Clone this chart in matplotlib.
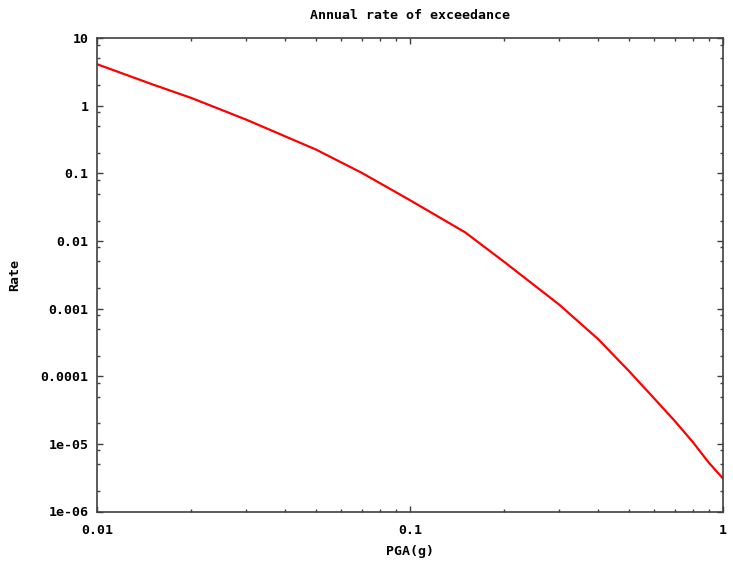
import numpy as np
import matplotlib
matplotlib.use('Agg')
import matplotlib.pyplot as plt
from matplotlib.ticker import FixedLocator, FixedFormatter, NullFormatter

# Hazard curve
pga = [0.01, 0.015, 0.02, 0.03, 0.04, 0.05, 0.07, 0.1, 0.15, 0.2,
       0.3, 0.4, 0.5, 0.6, 0.7, 0.8, 0.9, 1.0]
rate = [4.1, 2.07, 1.3, 0.62, 0.35, 0.225, 0.102, 0.040, 0.0134, 0.0049,
        0.00114, 3.5e-4, 1.2e-4, 4.8e-5, 2.2e-5, 1.07e-5, 5.3e-6, 3.07e-6]

xticks = [0.01, 0.1, 1]
xlabels = ['0.01', '0.1', '1']
yticks = [1e-6, 1e-5, 1e-4, 1e-3, 1e-2, 1e-1, 1, 10]
ylabels = ['1e-06', '1e-05', '0.0001', '0.001', '0.01', '0.1', '1', '10']

font = dict(family='DejaVu Sans Mono', weight='bold', size=9.5)
axis_col = '#404040'

fig = plt.figure(figsize=(7.33, 5.66), dpi=100)
ax = fig.add_axes([97 / 733, 1 - 511.5 / 566, 626 / 733, 473.5 / 566])

ax.loglog(pga, rate, color='#ff0000', lw=1.6)
ax.set_xlim(0.01, 1)
ax.set_ylim(1e-6, 10)

# major ticks with gnuplot-like labels
ax.xaxis.set_major_locator(FixedLocator(xticks))
ax.xaxis.set_major_formatter(FixedFormatter(xlabels))
ax.yaxis.set_major_locator(FixedLocator(yticks))
ax.yaxis.set_major_formatter(FixedFormatter(ylabels))

# minor ticks
xminor = [m * d for d in [0.01, 0.1] for m in range(2, 10)]
yminor = [m * d for d in yticks[:-1] for m in (2, 5, 8)]
ax.xaxis.set_minor_locator(FixedLocator(xminor))
ax.yaxis.set_minor_locator(FixedLocator(yminor))
ax.xaxis.set_minor_formatter(NullFormatter())
ax.yaxis.set_minor_formatter(NullFormatter())

ax.tick_params(which='both', direction='in', top=True, right=True,
               color=axis_col, width=1.0)
ax.tick_params(which='major', length=4.5)
ax.tick_params(which='minor', length=2.5)
ax.tick_params(axis='x', which='major', pad=9)
ax.tick_params(axis='y', which='major', pad=6)
for lab in ax.get_xticklabels() + ax.get_yticklabels():
    lab.set_fontfamily(font['family'])
    lab.set_fontweight(font['weight'])
    lab.set_fontsize(font['size'])

for sp in ax.spines.values():
    sp.set_color(axis_col)
    sp.set_linewidth(1.2)

ax.set_title('Annual rate of exceedance', pad=14, **font)
ax.set_xlabel('PGA(g)', labelpad=6, **font)
ax.set_ylabel('Rate', labelpad=14, **font)

fig.savefig('out.png', dpi=100, facecolor='white')
